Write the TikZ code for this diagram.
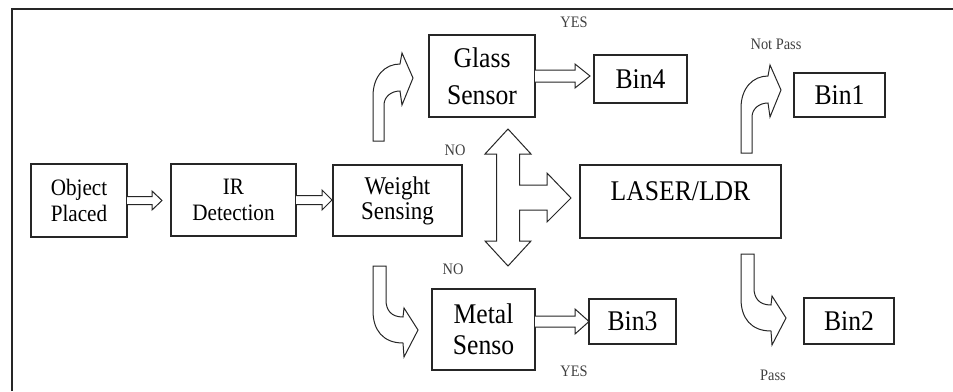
\documentclass[tikz,border=0pt]{standalone}
\usepackage{fontspec}
\setmainfont[FakeStretch=0.9]{Liberation Serif}
\usetikzlibrary{calc}

\tikzset{
  box/.style={draw=black!85, line width=1.3pt, anchor=north west, inner sep=0pt, outer sep=0pt, align=center, text=black},
  blockarrow/.style={draw=black!85, line width=1pt, line join=miter, fill=white},
  tag/.style={font=\fontsize{16}{18}\selectfont, text=black!75}
}

\begin{document}
\begin{tikzpicture}[x=1pt, y=-1pt]
      \useasboundingbox (0,0) rectangle (953,391);
      \draw[line width=1.6pt, black!85] (12,391) -- (12,9) -- (953,9);
      % boxes
      \node[box, minimum width=96pt, minimum height=73pt, font=\fontsize{23.5}{25.5}\selectfont] (obj) at (31,164) {Object\\Placed};
      \node[box, minimum width=125pt, minimum height=72pt, font=\fontsize{23.5}{25.5}\selectfont] (ir) at (171,164) {IR\\Detection};
      \node[box, minimum width=129pt, minimum height=71pt, font=\fontsize{25.5}{25}\selectfont] (wt) at (333,165) {Weight\\Sensing};
      \node[box, minimum width=106pt, minimum height=82pt, font=\fontsize{28.5}{37}\selectfont] (glass) at (429,35) {Glass\\Sensor};
      \node[box, minimum width=103pt, minimum height=81pt, font=\fontsize{28.5}{31}\selectfont] (metal) at (432,289) {Metal\\Senso};
      \node[box, minimum width=201pt, minimum height=73pt, text height=20pt, text depth=23pt, font=\fontsize{28.5}{34}\selectfont] (laser) at (580,165) {LASER/LDR};
      \node[box, minimum width=93pt, minimum height=48pt, font=\fontsize{28.5}{34}\selectfont] (bin4) at (594,55) {Bin4};
      \node[box, minimum width=91pt, minimum height=44pt, font=\fontsize{28.5}{34}\selectfont] (bin1) at (794,73) {Bin1};
      \node[box, minimum width=87pt, minimum height=45pt, font=\fontsize{28.5}{34}\selectfont] (bin3) at (589,299) {Bin3};
      \node[box, minimum width=90pt, minimum height=46pt, font=\fontsize{28.5}{34}\selectfont] (bin2) at (804,298) {Bin2};
      % straight hollow arrows
      \draw[blockarrow] (obj.east) ++(0,-4) -- ++(25,0) -- ++(0,-5.5) -- ++(10,9.5) -- ++(-10,9.5) -- ++(0,-5.5) -- ++(-25,0);
      \draw[blockarrow] (ir.east) ++(0,-4.5) -- ++(26,0) -- ++(0,-5.5) -- ++(10,10) -- ++(-10,10) -- ++(0,-5.5) -- ++(-26,0);
      \draw[blockarrow] (glass.east) ++(0,-6) -- ++(40,0) -- ++(0,-6) -- ++(15,12) -- ++(-15,12) -- ++(0,-6) -- ++(-40,0);
      \draw[blockarrow] (metal.east |- bin3.west) ++(0,-5.5) -- ++(40,0) -- ++(0,-7) -- ++(14,12.5) -- ++(-14,12.5) -- ++(0,-7) -- ++(-40,0);
      % three way arrow
      \coordinate (hub) at (508,198);
      \draw[blockarrow, shift={(hub)}] (-11.5,-44) -- (-23,-44) -- (0,-69) -- (23,-44) -- (11.5,-44) -- (11.5,-13) -- (39,-13) -- (39,-25)
        -- (63,0) -- (39,24) -- (39,12) -- (11.5,12) -- (11.5,43) -- (23,43) -- (0,68) -- (-23,43) -- (-11.5,43) -- cycle;
      % bent arrows
      \draw[blockarrow, shift={($(wt.north west)+(40,-24)$)}] (0,0) -- (0,-45) .. controls (0,-65) and (12,-77) .. (27,-77) -- (29,-88) -- (40,-63)
        -- (29,-36) -- (27,-50) .. controls (18,-50) and (11,-44) .. (11,-36) -- (11,0) -- cycle;
      \draw[blockarrow, shift={($(laser.north east)+(-40,-12)$)}] (0,0) -- (0,-45) .. controls (0,-65) and (12,-77) .. (27,-77) -- (29,-88) -- (40,-63)
        -- (29,-36) -- (27,-50) .. controls (18,-50) and (11,-44) .. (11,-36) -- (11,0) -- cycle;
      \draw[blockarrow, shift={($(wt.south west)+(40,30)$)}] (0,0) -- (13,0) -- (13,34) .. controls (13,44) and (18,51) .. (30,51) -- (31,42) -- (45,64)
        -- (31,91) -- (30,77) .. controls (10,77) and (0,64) .. (0,45) -- cycle;
      \draw[blockarrow, shift={($(laser.south east)+(-40,16)$)}] (0,0) -- (13,0) -- (13,34) .. controls (13,44) and (18,51) .. (30,51) -- (31,42) -- (45,64)
        -- (31,91) -- (30,77) .. controls (10,77) and (0,64) .. (0,45) -- cycle;
      % labels
      \node[tag] (yes1) at (574,22) {YES};
      \node[tag] (notpass) at (776,44) {Not Pass};
      \node[tag] (no1) at (455,150) {NO};
      \node[tag] (no2) at (453,269) {NO};
      \node[tag] (yes2) at (574,371) {YES};
      \node[tag] (pass) at (773,375) {Pass};
\end{tikzpicture}
\end{document}
